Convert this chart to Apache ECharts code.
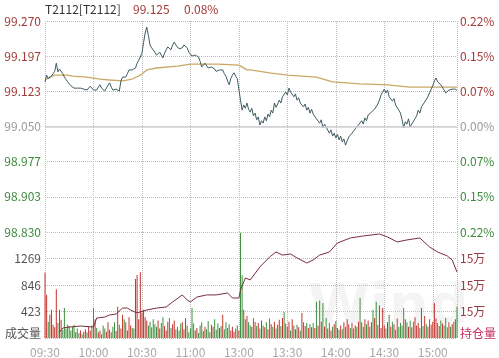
<!DOCTYPE html>
<html><head><meta charset="utf-8">
<script src="https://cdn.jsdelivr.net/npm/echarts/dist/echarts.min.js"></script>
<style>html,body{margin:0;padding:0;background:#fff}#c{width:499px;height:358px}</style>
</head><body><div id="c"></div>
<script>
const contractName = 'T2112[T2112]';
const lastPrice = '99.125';
const changePct = '0.08%';
const prevSettle = 99.050;
const priceStep = 0.22 / 3;
const timeTickLabels = ['09:30','10:00','10:30','11:00','13:00','13:30','14:00','14:30','15:00'];
const volumeLeftLabel = '成交量';
const oiRightLabel = '持仓量';

// one price per minute, 09:30-11:30 then 13:00-15:15
const price = [
99.143,99.157,99.150,99.151,99.155,99.157,99.165,99.182,99.164,99.170,
99.172,99.160,99.153,99.148,99.143,99.141,99.135,99.132,99.130,99.133,
99.130,99.128,99.130,99.126,99.128,99.132,99.126,99.130,99.134,99.132,
99.126,99.130,99.126,99.132,99.137,99.130,99.126,99.124,99.130,99.136,
99.141,99.132,99.126,99.122,99.128,99.130,99.124,99.145,99.153,99.150,
99.153,99.160,99.168,99.172,99.168,99.164,99.172,99.182,99.188,99.195,
99.203,99.225,99.245,99.257,99.240,99.220,99.214,99.210,99.205,99.199,
99.203,99.205,99.199,99.193,99.203,99.210,99.216,99.212,99.210,99.220,
99.226,99.220,99.216,99.212,99.210,99.214,99.220,99.224,99.214,99.205,
99.201,99.197,99.193,99.199,99.203,99.195,99.186,99.174,99.178,99.182,
99.180,99.172,99.168,99.174,99.178,99.170,99.165,99.162,99.168,99.166,
99.168,99.160,99.155,99.145,99.137,99.150,99.157,99.162,99.155,99.150,
99.153,99.105,99.084,99.095,99.088,99.099,99.086,99.080,99.088,99.072,
99.078,99.064,99.070,99.053,99.062,99.057,99.070,99.062,99.076,99.070,
99.084,99.078,99.099,99.090,99.097,99.105,99.099,99.112,99.108,99.122,
99.116,99.130,99.122,99.126,99.112,99.118,99.105,99.110,99.099,99.103,
99.091,99.097,99.084,99.090,99.078,99.086,99.076,99.080,99.066,99.070,
99.057,99.064,99.047,99.055,99.049,99.053,99.036,99.043,99.030,99.036,
99.026,99.034,99.022,99.030,99.018,99.024,99.011,99.020,99.028,99.024,
99.036,99.032,99.045,99.041,99.053,99.049,99.062,99.055,99.068,99.062,
99.074,99.070,99.080,99.076,99.086,99.084,99.097,99.105,99.116,99.122,
99.128,99.120,99.126,99.112,99.116,99.103,99.108,99.095,99.099,99.084,
99.078,99.064,99.047,99.060,99.055,99.066,99.049,99.055,99.051,99.066,
99.072,99.084,99.078,99.091,99.088,99.101,99.097,99.112,99.108,99.128,
99.135,99.145,99.151,99.143,99.147,99.137,99.141,99.126,99.120,99.116,
99.126,99.122,99.128,99.124,99.128,99.125
];

const avgMinutes = [0,3,6,14,17,26,34,40,48,54,59,63,69,82,90,107,120,125,127,139,150,168,178,195,212,226,255];
const avgPrices = [99.147,99.153,99.157,99.157,99.155,99.153,99.149,99.147,99.145,99.149,99.157,99.168,99.172,99.176,99.180,99.180,99.178,99.168,99.168,99.162,99.157,99.153,99.143,99.139,99.137,99.132,99.132];

const volume = [
1040,690,260,370,450,210,170,780,240,450,
290,130,480,150,210,190,120,180,210,90,
150,80,120,60,100,140,90,180,120,200,
480,300,160,90,120,60,200,150,100,250,
130,90,180,250,110,500,210,150,370,300,
250,120,330,200,160,150,940,1005,300,1050,
400,450,330,280,200,260,170,300,220,180,
280,150,240,330,190,120,260,320,160,220,
280,140,180,120,230,250,140,320,200,90,
150,480,230,120,160,80,200,250,110,180,
140,270,90,210,180,300,130,230,160,190,
370,140,250,160,220,120,180,100,150,200,
120,1680,1000,450,300,350,250,200,180,320,
260,190,240,150,280,200,170,250,140,310,
220,180,260,150,210,290,190,320,415,230,
180,260,120,300,200,140,210,170,120,400,
250,190,240,160,220,170,240,160,580,200,
600,260,560,180,320,150,240,120,180,220,
270,160,130,200,140,250,180,300,220,160,
240,150,200,180,260,640,250,180,300,220,
280,180,250,450,320,580,210,520,160,480,
200,150,250,370,180,260,220,130,310,180,
240,200,480,300,250,180,280,170,260,330,
200,240,160,480,190,350,220,180,300,210,
260,560,310,240,190,280,230,200,320,170,
250,180,220,260,300,500
];
const volumeTicks = [0, 423, 846, 1269, 1692];

const oiMinutes = [9,11,15,22,30,32,37,40,44,48,51,53,57,59,63,69,75,79,85,88,90,94,100,106,113,116,120,121,124,127,133,139,143,147,152,156,162,166,170,176,181,189,197,207,212,218,224,232,238,243,249,252,255];
const oiValues = [148450,148750,148830,148900,148830,149510,149580,149740,149810,150260,150260,150110,149890,149960,150110,150260,150340,150720,151250,150870,150720,151090,151250,151250,151400,151020,151020,151620,152530,152380,153360,154110,154490,154260,154340,154040,153660,153890,154260,154490,155170,155550,155700,155850,155620,155250,155400,155550,154870,154490,154190,153890,152980];
const oiAxis = [148000, 156000, 2000];

const FONT = '"Noto Sans CJK SC", "Noto Sans", sans-serif';
const UP = '#a23b38', DN = '#3d8a3d', EQ = '#9a9a9a';

const chart = echarts.init(document.getElementById('c'), null, {renderer: 'canvas'});
const dotted = {type: 'dotted', color: '#bcbcbc', width: 1};

const pricePts = price.map((p, i) => [i, (p - prevSettle) / priceStep]);
const avgPts = avgMinutes.map((m, i) => [m, (avgPrices[i] - prevSettle) / priceStep]);
const volPts = volume.map((v, i) => {
  const d = i === 0 ? 1 : price[i] - price[i - 1];
  const c = d > 0 ? '#c4352c' : (d < 0 ? '#3f8f3f' : '#8c7a45');
  return {value: [i, v], itemStyle: {color: c}};
});
const oiPts = oiMinutes.map((m, i) => [m, oiValues[i]]);

chart.setOption({
  animation: false,
  backgroundColor: '#fff',
  textStyle: {fontFamily: FONT},
  graphic: [
    {type: 'text', left: 308, top: 280, z: -10, silent: true,
     style: {text: 'Wind', fill: 'rgba(0,0,0,0.045)', font: 'bold 56px "DejaVu Sans"'}},
    {type: 'text', left: 45, top: 3, style: {text: contractName, fill: '#333', font: '12px ' + FONT}},
    {type: 'text', left: 133, top: 3, style: {text: lastPrice, fill: UP, font: '12px ' + FONT}},
    {type: 'text', left: 184, top: 3, style: {text: changePct, fill: UP, font: '12px ' + FONT}}
  ],
  grid: [
    {left: 45, right: 42, top: 21, height: 211},
    {left: 45, right: 42, top: 232, height: 106}
  ],
  xAxis: [
    {type: 'value', gridIndex: 0, min: 0, max: 255, interval: 30,
     axisLine: {show: false}, axisTick: {show: false}, axisLabel: {show: false},
     splitLine: {show: true, lineStyle: dotted}},
    {type: 'value', gridIndex: 1, min: 0, max: 255, interval: 30,
     axisLine: {show: false}, axisTick: {show: false},
     axisLabel: {show: true, color: '#a8a8a8', fontSize: 12, margin: 8, fontFamily: FONT,
       formatter: v => (v % 30 === 0 && v / 30 < timeTickLabels.length) ? timeTickLabels[v / 30] : ''},
     splitLine: {show: true, lineStyle: dotted}}
  ],
  yAxis: [
    {type: 'value', gridIndex: 0, min: -3, max: 3, interval: 1, position: 'left',
     axisLine: {show: false}, axisTick: {show: false},
     splitLine: {show: true, lineStyle: dotted},
     axisLabel: {margin: 4, fontSize: 12, fontFamily: FONT,
       formatter: v => {
         const t = (prevSettle + v * priceStep).toFixed(3);
         return v > 0 ? '{u|' + t + '}' : (v < 0 ? '{d|' + t + '}' : '{e|' + t + '}');
       },
       rich: {u: {color: UP, fontSize: 12, fontFamily: FONT}, d: {color: DN, fontSize: 12, fontFamily: FONT}, e: {color: EQ, fontSize: 12, fontFamily: FONT}}}},
    {type: 'value', gridIndex: 0, min: -3, max: 3, interval: 1, position: 'right',
     axisLine: {show: false}, axisTick: {show: false}, splitLine: {show: false},
     axisLabel: {margin: 3, fontSize: 12, fontFamily: FONT,
       formatter: v => {
         const t = Math.abs(v * priceStep / prevSettle * 100).toFixed(2) + '%';
         return v > 0 ? '{u|' + t + '}' : (v < 0 ? '{d|' + t + '}' : '{e|' + t + '}');
       },
       rich: {u: {color: UP, fontSize: 12, fontFamily: FONT}, d: {color: DN, fontSize: 12, fontFamily: FONT}, e: {color: EQ, fontSize: 12, fontFamily: FONT}}}},
    {type: 'value', gridIndex: 1, min: volumeTicks[0], max: volumeTicks[volumeTicks.length - 1],
     interval: volumeTicks[1], position: 'left',
     axisLine: {show: false}, axisTick: {show: false},
     splitLine: {show: true, lineStyle: dotted},
     axisLabel: {margin: 4, fontSize: 12, color: '#555', fontFamily: FONT,
       formatter: v => v === 0 ? '{b|' + volumeLeftLabel + '}' : (v >= volumeTicks[volumeTicks.length - 1] ? '' : String(v)),
       rich: {b: {color: '#555', fontSize: 12, fontFamily: FONT, padding: [0, 0, 10, 0]}}}},
    {type: 'value', gridIndex: 1, min: oiAxis[0], max: oiAxis[1], interval: oiAxis[2], position: 'right',
     axisLine: {show: false}, axisTick: {show: false}, splitLine: {show: false},
     axisLabel: {margin: 3, fontSize: 12, color: '#9b3b45', fontFamily: FONT,
       formatter: v => v === oiAxis[0] ? '{b|' + oiRightLabel + '}' : (v >= oiAxis[1] ? '' : Math.round(v / 10000) + '万'),
       rich: {b: {color: '#c2305e', fontSize: 12, fontFamily: FONT, padding: [0, 0, 10, 0]}}}}
  ],
  series: [
    {type: 'bar', xAxisIndex: 1, yAxisIndex: 2, data: volPts, barWidth: 1, z: 2},
    {type: 'line', xAxisIndex: 1, yAxisIndex: 3, data: oiPts, symbol: 'none',
     lineStyle: {color: '#7a2e3c', width: 1}, z: 3},
    {type: 'line', xAxisIndex: 0, yAxisIndex: 0, data: avgPts, symbol: 'none',
     lineStyle: {color: '#c9a866', width: 1.3}, z: 3},
    {type: 'line', xAxisIndex: 0, yAxisIndex: 0, data: pricePts, symbol: 'none',
     lineStyle: {color: '#3e5c62', width: 1}, z: 4,
     markLine: {silent: true, symbol: 'none', label: {show: false},
       lineStyle: {type: 'solid', color: '#cfcfcf', width: 1.5}, data: [{yAxis: 0}]}}
  ]
});
</script>
</body></html>
